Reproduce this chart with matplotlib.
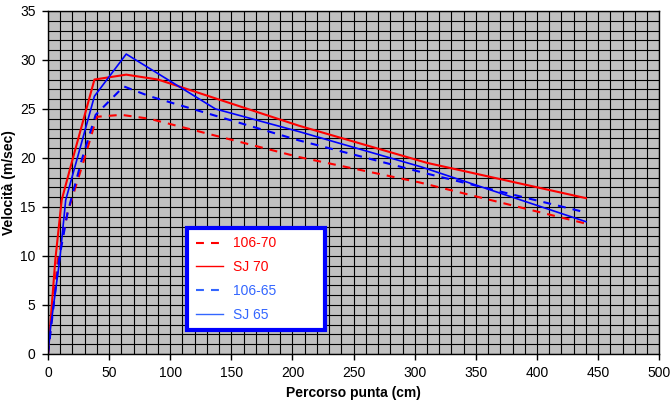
import matplotlib
matplotlib.use("Agg")
import numpy as np
import matplotlib.pyplot as plt
from matplotlib.ticker import MultipleLocator

plt.rcParams["font.family"] = ["Liberation Sans", "DejaVu Sans"]

# Data (x in cm, y in m/sec)
x_106_70 = [0, 8, 16, 29.5, 40, 60, 83, 205, 304, 440]
y_106_70 = [0, 9.6, 14.4, 19.8, 24.2, 24.4, 24.0, 20.1, 17.5, 13.3]

x_sj_70 = [0, 6, 11.2, 20, 38, 64, 90, 205, 310, 440]
y_sj_70 = [0, 9.6, 15.7, 19.8, 28.0, 28.5, 28.0, 23.3, 19.5, 15.9]

x_106_65 = [0, 9, 16, 27.6, 39, 62, 83, 205, 310, 438]
y_106_65 = [0, 9.6, 14.4, 19.8, 24.4, 27.3, 26.3, 21.8, 18.4, 14.5]

x_sj_65 = [0, 2.2, 9.6, 14.5, 38, 64, 137, 205, 305, 440]
y_sj_65 = [0, 2.8, 9.6, 15.7, 26.3, 30.6, 25.0, 22.7, 19.1, 13.5]

labels = ["106-70", "SJ 70", "106-65", "SJ 65"]

fig = plt.figure(figsize=(6.72, 4.05), dpi=100)
ax = fig.add_axes([0.0714, 0.126, 0.9096, 0.847])
ax.set_facecolor("#c0c0c0")

dash = (0, (3.8, 3.4))
ax.plot(x_106_70, y_106_70, color="#ff0000", lw=1.5, linestyle=dash, label=labels[0])
ax.plot(x_sj_70, y_sj_70, color="#ff0000", lw=1.5, label=labels[1])
ax.plot(x_106_65, y_106_65, color="#0000ff", lw=1.5, linestyle=dash, label=labels[2])
ax.plot(x_sj_65, y_sj_65, color="#0000ff", lw=1.2, label=labels[3])

ax.set_xlim(0, 500)
ax.set_ylim(0, 35)
ax.xaxis.set_major_locator(MultipleLocator(50))
ax.yaxis.set_major_locator(MultipleLocator(5))
ax.xaxis.set_minor_locator(MultipleLocator(10))
ax.yaxis.set_minor_locator(MultipleLocator(1))
ax.grid(which="both", color="black", lw=0.8)
ax.set_axisbelow(True)
ax.tick_params(which="major", direction="out", length=4, width=1, labelsize=10, pad=5)
ax.tick_params(which="minor", length=0)
for s in ax.spines.values():
    s.set_color("black")
    s.set_linewidth(1)

ax.set_xlabel("Percorso punta (cm)", fontsize=10, fontweight="bold")
ax.set_ylabel("Velocità (m/sec)", fontsize=10, fontweight="bold")
ax.xaxis.set_label_coords(0.5, -0.114)
ax.yaxis.set_label_coords(-0.064, 0.5)
ax.xaxis.label.set_va("center")
ax.yaxis.label.set_va("center")

leg = ax.legend(loc="lower left", bbox_to_anchor=(0.228, 0.07, 0.226, 0.3),
                mode="expand", fontsize=10,
                fancybox=False, framealpha=1, edgecolor="#0000ff",
                labelspacing=0.7, handlelength=2.0, handletextpad=0.7,
                borderpad=0.6, borderaxespad=0)
leg.get_frame().set_linewidth(3)
leg_colors = ["#ff0000", "#ff0000", "#3366ff", "#3366ff"]
for text, line, c in zip(leg.get_texts(), leg.get_lines(), leg_colors):
    text.set_color(c)
    line.set_color(c)
leg.get_lines()[1].set_linewidth(1)
leg.get_lines()[3].set_linewidth(1)

fig.savefig("out.png", dpi=100)
